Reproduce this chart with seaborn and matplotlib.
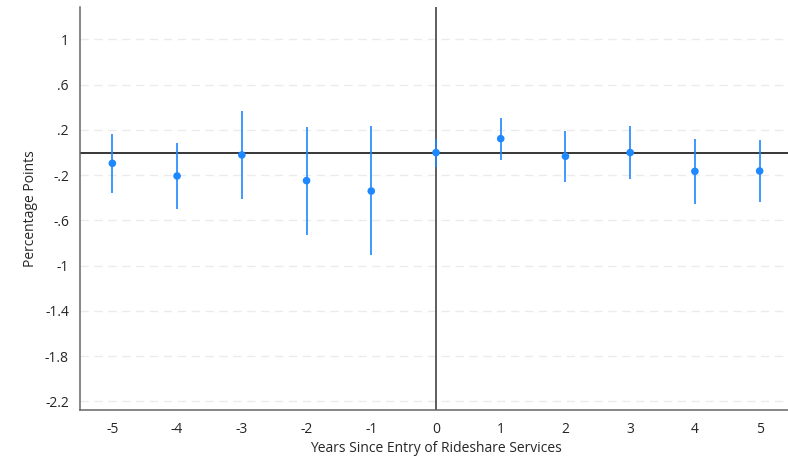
import matplotlib
matplotlib.use("Agg")
import matplotlib.pyplot as plt
import seaborn as sns
import pandas as pd

# event-study estimates
years = [-5, -4, -3, -2, -1, 0, 1, 2, 3, 4, 5]
coef = [-0.095, -0.207, -0.021, -0.248, -0.34, 0.0, 0.123, -0.033, 0.0, -0.166, -0.163]
ci_low = [-0.36, -0.50, -0.413, -0.726, -0.91, -0.125, -0.063, -0.26, -0.236, -0.452, -0.434]
ci_high = [0.165, 0.088, 0.368, 0.229, 0.235, 0.118, 0.306, 0.191, 0.235, 0.12, 0.111]

ytick_vals = [1, 0.6, 0.2, -0.2, -0.6, -1, -1.4, -1.8, -2.2]
ytick_labels = ["1", ".6", ".2", "-.2", "-.6", "-1", "-1.4", "-1.8", "-2.2"]

df = pd.DataFrame({"year": years, "coef": coef, "lo": ci_low, "hi": ci_high})

sns.set_style("white")
plt.rcParams["font.family"] = ["Open Sans", "DejaVu Sans"]

fig = plt.figure(figsize=(7.88, 4.58), dpi=100)
ax = fig.add_axes([80 / 788, 48 / 458, 712 / 788, 403 / 458])

color = "#1e88ff"
# horizontal gridlines
for v in ytick_vals:
    ax.axhline(v, color="#ebebeb", lw=1, ls=(0, (6, 4)), zorder=0)
ax.axhline(0, color="black", lw=1.1, zorder=1)
ax.axvline(0, color="#333333", lw=1.1, zorder=1)

ax.vlines(df["year"], df["lo"], df["hi"], color=color, lw=1.2, zorder=2)
sns.scatterplot(data=df, x="year", y="coef", color=color, s=30,
                edgecolor="none", ax=ax, zorder=3)

ax.set_xlim(-5.5, 5.5)
ax.set_ylim(-2.276, 1.287)
ax.set_xticks(years)
ax.set_xticklabels([str(y) for y in years])
ax.set_yticks(ytick_vals)
ax.set_yticklabels(ytick_labels)

for s in ["top", "right"]:
    ax.spines[s].set_visible(False)
for s in ["left", "bottom"]:
    ax.spines[s].set_color("#666666")
    ax.spines[s].set_linewidth(1.1)
ax.tick_params(axis="both", length=5, width=1, color="#666666",
               labelsize=10, direction="out")
ax.tick_params(axis="y", pad=3)

ax.set_xlabel("Years Since Entry of Rideshare Services", fontsize=10, labelpad=3)
ax.set_ylabel("Percentage Points", fontsize=10, labelpad=5)

fig.savefig("out.png", dpi=100)
